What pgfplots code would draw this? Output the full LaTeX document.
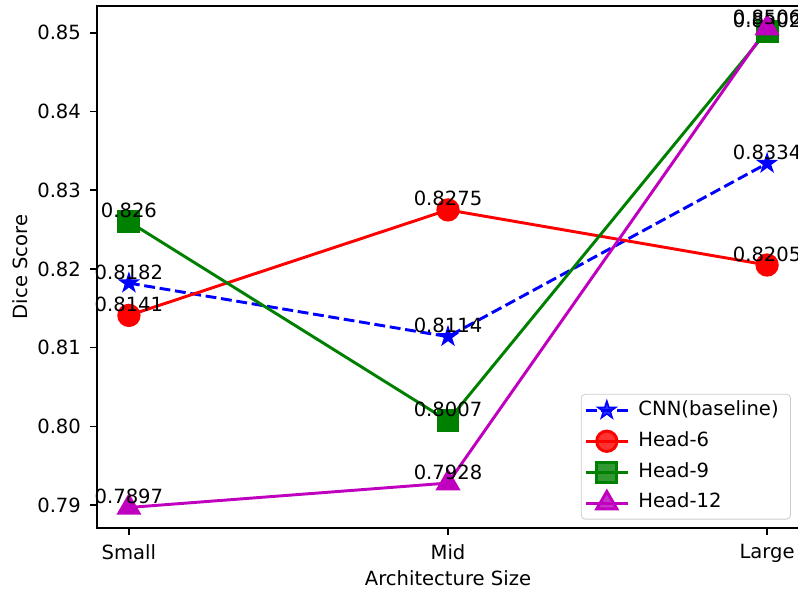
\documentclass[border=0pt]{standalone}
\usepackage{fontspec}
\setmainfont{DejaVu Sans}
\usepackage{pgfplots}
\pgfplotsset{compat=1.18}
\definecolor{mplgreen}{rgb}{0,0.5,0}
\definecolor{mplmag}{rgb}{0.75,0,0.75}
\pgfdeclareplotmark{fstar}{%
  \pgfpathmoveto{\pgfpointpolar{90}{\pgfplotmarksize}}%
  \pgfpathlineto{\pgfpointpolar{126}{0.382\pgfplotmarksize}}%
  \pgfpathlineto{\pgfpointpolar{162}{\pgfplotmarksize}}%
  \pgfpathlineto{\pgfpointpolar{198}{0.382\pgfplotmarksize}}%
  \pgfpathlineto{\pgfpointpolar{234}{\pgfplotmarksize}}%
  \pgfpathlineto{\pgfpointpolar{270}{0.382\pgfplotmarksize}}%
  \pgfpathlineto{\pgfpointpolar{306}{\pgfplotmarksize}}%
  \pgfpathlineto{\pgfpointpolar{342}{0.382\pgfplotmarksize}}%
  \pgfpathlineto{\pgfpointpolar{18}{\pgfplotmarksize}}%
  \pgfpathlineto{\pgfpointpolar{54}{0.382\pgfplotmarksize}}%
  \pgfpathclose
  \pgfusepathqfillstroke}
\begin{document}
\begin{tikzpicture}[font=\fontsize{10}{12}\selectfont]
\begin{axis}[
  scale only axis, width=358.7pt, height=266.7pt,
  xmin=-0.1, xmax=2.1, ymin=0.7871, ymax=0.8534,
  xtick={0,1,2}, xticklabels={Small,Mid,Large},
  ytick={0.79,0.80,0.81,0.82,0.83,0.84,0.85},
  /pgf/number format/assume math mode=true,
  tick align=outside, major tick length=3.5pt, tick pos=left,
  every tick/.style={black, line width=0.8pt},
  axis line style={line width=0.8pt},
  ticklabel style={font=\fontsize{10}{12}\selectfont},
  yticklabel style={xshift=-1.2pt, /pgf/number format/.cd, fixed, precision=2, zerofill},
  xticklabel style={yshift=-1.3pt},
  xlabel={Architecture Size}, ylabel={Dice Score},
  every axis x label/.style={at={(axis description cs:0.5,-0.0958)}, anchor=center, font=\fontsize{10}{12}\selectfont},
  every axis y label/.style={at={(axis description cs:-0.1097,0.5)}, anchor=center, rotate=90, font=\fontsize{10}{12}\selectfont},
  clip=false,
  point meta=explicit symbolic,
  nodes near coords,
  every node near coord/.append style={anchor=base, yshift=2pt, inner sep=0pt, text=black, font=\fontsize{10}{12}\selectfont},
  legend cell align=left,
  legend style={at={(1,0)}, anchor=south east, xshift=-4.1pt, yshift=4.3pt,
    draw=black!20, rounded corners=2pt, fill=white, fill opacity=0.8, text opacity=1,
    font=\fontsize{10}{12}\selectfont, row sep=3.8pt, inner xsep=1.5pt, inner ysep=2.2pt,
    nodes={inner xsep=4.6pt, inner ysep=1pt, text height=7.5pt, text depth=2.5pt}},
  legend image code/.code={\draw[mark repeat=2,mark phase=2] plot coordinates {(0cm,0cm) (0.38cm,0cm) (0.76cm,0cm)};},
]
\coordinate (sw) at (rel axis cs:0,0);
\coordinate (ne) at (rel axis cs:1,1);
\addplot[blue, line width=1.5pt, dash pattern=on 5.55pt off 2.4pt, mark=fstar, mark size=4.7pt, mark options={solid, fill=blue, line width=0.8pt}]
  coordinates {(0,0.8182) [0.8182] (1,0.8114) [0.8114] (2,0.8334) [0.8334]};
\addlegendentry{CNN(baseline)}
\addplot[red, line width=1.5pt, mark=*, mark size=5.2pt, mark options={solid, fill=red}]
  coordinates {(0,0.8141) [0.8141] (1,0.8275) [0.8275] (2,0.8205) [0.8205]};
\addlegendentry{Head-6}
\addplot[mplgreen, line width=1.5pt, mark=square*, mark size=5.1pt, mark options={solid, fill=mplgreen}]
  coordinates {(0,0.826) [0.826] (1,0.8007) [0.8007] (2,0.8502) [0.8502]};
\addlegendentry{Head-9}
\addplot[mplmag, line width=1.5pt, mark=triangle*, mark size=5.9pt, mark options={solid, fill=mplmag}]
  coordinates {(0,0.7897) [0.7897] (1,0.7928) [0.7928] (2,0.8506) [0.8506]};
\addlegendentry{Head-12}
\end{axis}
\pgfresetboundingbox
\useasboundingbox ([xshift=-49.57pt,yshift=-32.7pt]sw) rectangle ([xshift=-0.51pt,yshift=3.07pt]ne);
\end{tikzpicture}
\end{document}
